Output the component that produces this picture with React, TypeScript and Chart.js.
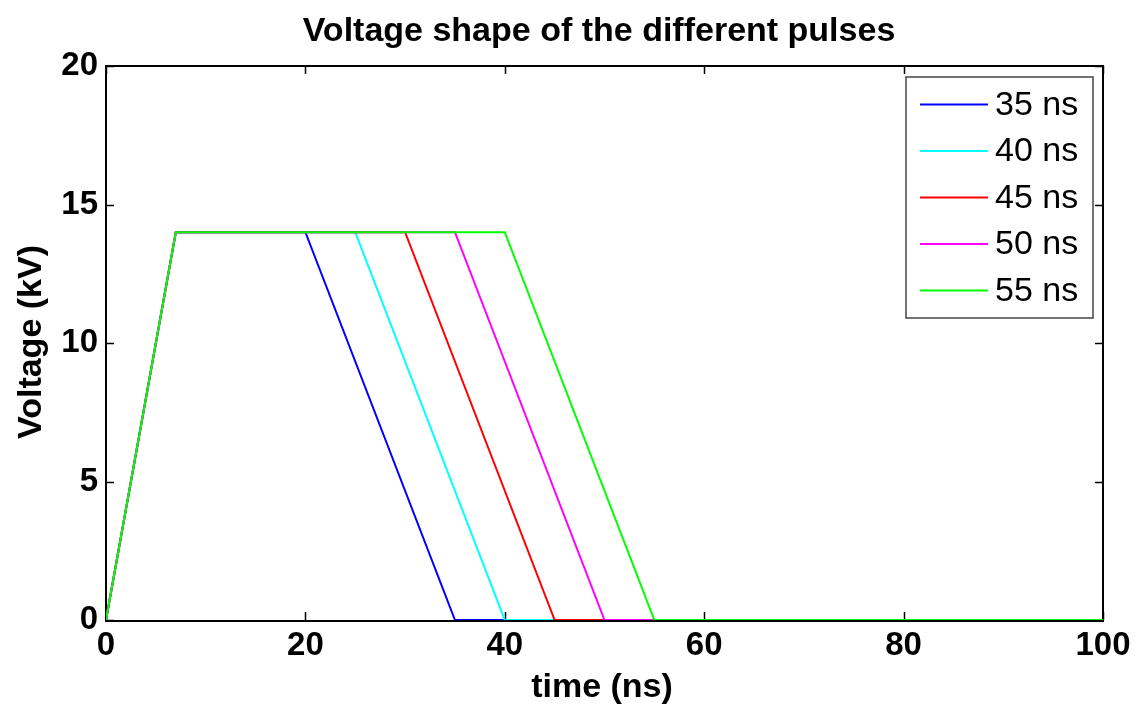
import React, { useEffect, useRef } from "react";
import { Chart, registerables } from "chart.js";

Chart.register(...registerables);

const chartTitle = "Voltage shape of the different pulses";
const xAxisTitle = "time (ns)";
const yAxisTitle = "Voltage (kV)";

const xTicks = [0, 20, 40, 60, 80, 100];
const yTicks = [0, 5, 10, 15, 20];

const pulseLabels = ["35 ns", "40 ns", "45 ns", "50 ns", "55 ns"];
const pulseColors = ["#0000ff", "#00ffff", "#ff0000", "#ff00ff", "#00ff00"];

const time35 = [0, 7, 20, 35, 100];
const volt35 = [0, 14, 14, 0, 0];
const time40 = [0, 7, 25, 40, 100];
const volt40 = [0, 14, 14, 0, 0];
const time45 = [0, 7, 30, 45, 100];
const volt45 = [0, 14, 14, 0, 0];
const time50 = [0, 7, 35, 50, 100];
const volt50 = [0, 14, 14, 0, 0];
const time55 = [0, 7, 40, 55, 100];
const volt55 = [0, 14, 14, 0, 0];

const seriesTimes = [time35, time40, time45, time50, time55];
const seriesVolts = [volt35, volt40, volt45, volt50, volt55];

const FONT = "'Liberation Sans', Arial, sans-serif";

const decorPlugin = {
  id: "matlabDecor",
  beforeDatasetsDraw(chart: any) {
    const ctx = chart.ctx as CanvasRenderingContext2D;
    const { left, right, top, bottom } = chart.chartArea;
    const xs = chart.scales.x;
    const ys = chart.scales.y;
    ctx.save();
    // box
    ctx.strokeStyle = "#000";
    ctx.lineWidth = 2;
    ctx.strokeRect(left, top, right - left, bottom - top + 1);
    // inward ticks
    const tl = 8;
    ctx.beginPath();
    xTicks.forEach((v) => {
      const px = Math.round(xs.getPixelForValue(v)) + 0.5;
      ctx.moveTo(px, bottom);
      ctx.lineTo(px, bottom - tl);
      ctx.moveTo(px, top);
      ctx.lineTo(px, top + tl);
    });
    yTicks.forEach((v) => {
      const py = Math.round(ys.getPixelForValue(v)) + 0.5;
      ctx.moveTo(left, py);
      ctx.lineTo(left + tl, py);
      ctx.moveTo(right, py);
      ctx.lineTo(right - tl, py);
    });
    ctx.lineWidth = 1.5;
    ctx.stroke();
    ctx.restore();
  },
  afterDatasetsDraw(chart: any) {
    const ctx = chart.ctx as CanvasRenderingContext2D;
    ctx.save();
    // legend
    const lx = 906, ly = 77, lw = 187, lh = 241;
    ctx.fillStyle = "#fff";
    ctx.fillRect(lx, ly, lw, lh);
    ctx.strokeStyle = "#444";
    ctx.lineWidth = 1.5;
    ctx.strokeRect(lx, ly, lw, lh);
    ctx.font = `34px ${FONT}`;
    ctx.textBaseline = "middle";
    ctx.textAlign = "left";
    chart.data.datasets.forEach((ds: any, i: number) => {
      const cy = ly + 27.5 + i * 46.5;
      ctx.strokeStyle = ds.borderColor;
      ctx.lineWidth = 2;
      ctx.beginPath();
      ctx.moveTo(lx + 14, cy);
      ctx.lineTo(lx + 82, cy);
      ctx.stroke();
      ctx.fillStyle = "#000";
      ctx.fillText(ds.label, lx + 89, cy + 1);
    });

    // titles
    ctx.fillStyle = "#000";
    ctx.font = `bold 34px ${FONT}`;
    ctx.textAlign = "center";
    ctx.textBaseline = "alphabetic";
    ctx.fillText(chartTitle, 599, 41);
    ctx.fillText(xAxisTitle, 602, 697);
    ctx.translate(41, 342);
    ctx.rotate(-Math.PI / 2);
    ctx.fillText(yAxisTitle, 0, 0);
    ctx.restore();
  },
};

export default function App() {
  const ref = useRef<HTMLCanvasElement | null>(null);
  useEffect(() => {
    if (!ref.current) return;
    const chart = new Chart(ref.current, {
      type: "line",
      data: {
        datasets: pulseLabels.map((label, i) => ({
          label,
          data: seriesTimes[i].map((t, j) => ({ x: t, y: seriesVolts[i][j] })),
          borderColor: pulseColors[i],
          backgroundColor: pulseColors[i],
          borderWidth: 2,
          pointRadius: 0,
          tension: 0,
          fill: false,
          order: -i,
        })),
      },
      options: {
        animation: false,
        responsive: true,
        maintainAspectRatio: false,
        layout: { padding: { top: 66, right: 38, left: 0, bottom: 0 } },
        plugins: {
          legend: { display: false },
          title: { display: false },
          tooltip: { enabled: false },
        },
        scales: {
          x: {
            type: "linear",
            min: 0,
            max: 100,
            afterBuildTicks: (s: any) => {
              s.ticks = xTicks.map((v) => ({ value: v }));
            },
            afterFit: (s: any) => {
              s.height = 86;
            },
            grid: { display: false, drawTicks: false },
            border: { display: false },
            ticks: {
              color: "#000",
              font: { family: FONT, size: 33, weight: "bold" },
              padding: 6,
              maxRotation: 0,
            },
          },
          y: {
            type: "linear",
            min: 0,
            max: 20,
            afterBuildTicks: (s: any) => {
              s.ticks = yTicks.map((v) => ({ value: v }));
            },
            afterFit: (s: any) => {
              s.width = 106;
            },
            grid: { display: false, drawTicks: false },
            border: { display: false },
            ticks: {
              color: "#000",
              font: { family: FONT, size: 33, weight: "bold" },
              padding: 8,
            },
          },
        },
      },
      plugins: [decorPlugin],
    } as any);
    return () => chart.destroy();
  }, []);
  return (
    <div style={{ position: "fixed", left: 0, top: 0, width: 1141, height: 706, background: "#fff" }}>
      <canvas ref={ref} />
    </div>
  );
}
